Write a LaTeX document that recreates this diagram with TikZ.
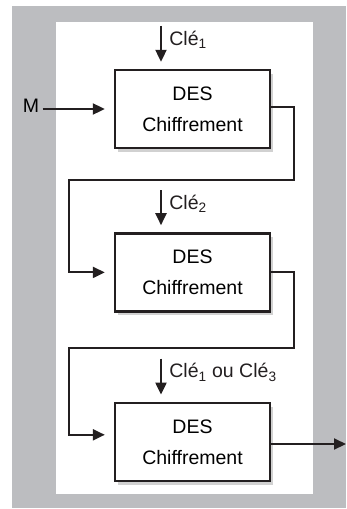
\documentclass[tikz,border=0pt]{standalone}
\usepackage{fontspec}
\setmainfont{Liberation Sans}
\usetikzlibrary{arrows.meta, positioning, calc, shadows}
\definecolor{desframe}{RGB}{188,189,192}
\definecolor{desink}{HTML}{231f20}

\begin{document}
\begin{tikzpicture}[
    x=1pt, y=-1pt,
    font=\fontsize{19.5}{31}\selectfont,
    desbox/.style={rectangle, draw=desink, fill=white, line width=2.4pt, minimum width=155pt, minimum height=78pt, align=center, drop shadow={shadow xshift=3pt, shadow yshift=-4pt, opacity=0.18, fill=black}},
    arrow/.style={-{Triangle[length=12pt, width=11pt]}, line width=2.1pt, desink},
    line/.style={line width=2.1pt, desink}
]
\useasboundingbox (0,0) rectangle (346,509);
% background panel
\fill[desframe] (12,6) rectangle (346,508);
\fill[white] (56,22) rectangle (313,494);

\node[desbox] (des1) at (192.5,109) {DES\\Chiffrement};
\node[desbox, below=83pt of des1] (des2) {DES\\Chiffrement};
\node[desbox, below=89pt of des2] (des3) {DES\\Chiffrement};

% keys
\coordinate (k1) at ([xshift=-31.5pt, yshift=43pt]des1.north);
\coordinate (k2) at ([xshift=-31.5pt, yshift=42pt]des2.north);
\coordinate (k3) at ([xshift=-31.5pt, yshift=43pt]des3.north);
\draw[arrow, shorten >=7pt] (k1) -- node[pos=0.32, right=4pt] {Clé\textsubscript{1}} (k1 |- des1.north);
\draw[arrow, shorten >=7pt] (k2) -- node[pos=0.32, right=4pt] {Clé\textsubscript{2}} (k2 |- des2.north);
\draw[arrow, shorten >=7pt] (k3) -- node[pos=0.32, right=4pt] {Clé\textsubscript{1} ou Clé\textsubscript{3}} (k3 |- des3.north);

% message in
\node[anchor=base] (m) at (31,112) {M};
\draw[arrow, shorten >=9pt] (m.east |- des1.west) -- (des1.west);

% chaining
\coordinate (turn1) at ($(des1.south east)+(23,31)$);
\coordinate (left2) at ([xshift=-45pt]des2.west);
\draw[arrow, shorten >=9pt] ([yshift=2pt]des1.east) -| (turn1) -| (left2) -- (des2.west);
\coordinate (turn2) at ($(des2.south east)+(23,35)$);
\coordinate (left3) at ([xshift=-45pt, yshift=7pt]des3.west);
\draw[arrow, shorten >=9pt] (des2.east) -| (turn2) -| (left3) -- ([yshift=7pt]des3.west);

% output
\coordinate (out) at (346,444);
\draw[arrow] (des3.east |- out) -- (out);
\end{tikzpicture}
\end{document}
